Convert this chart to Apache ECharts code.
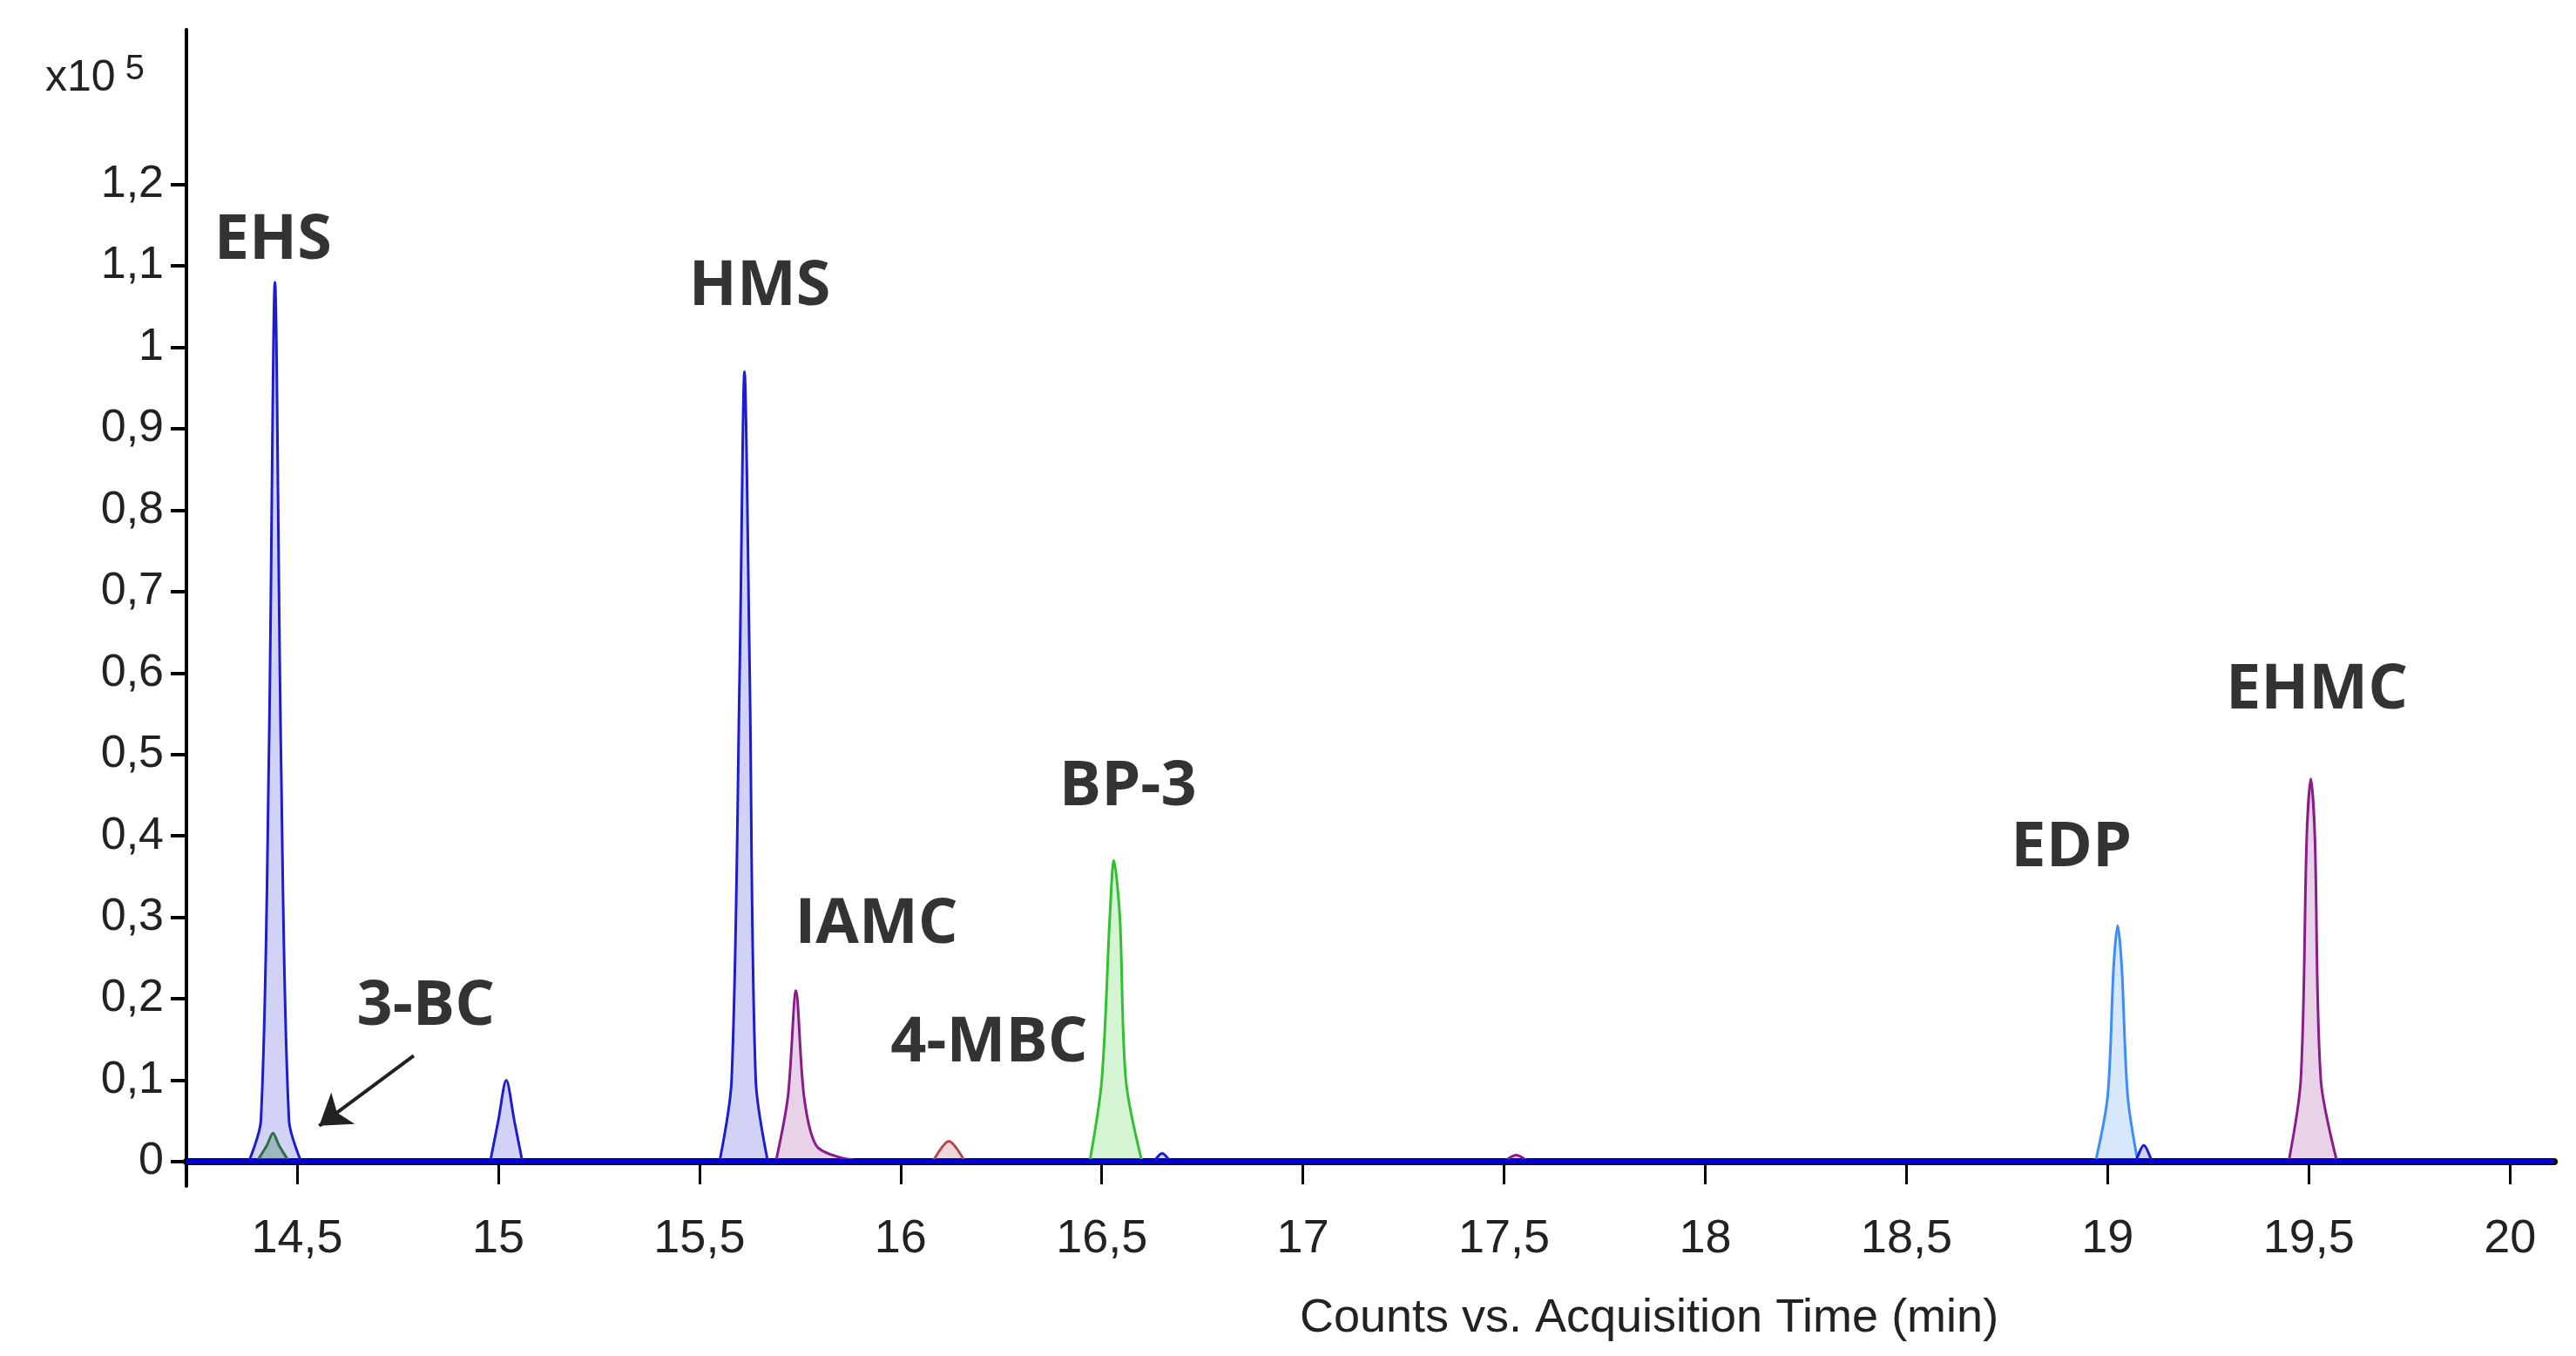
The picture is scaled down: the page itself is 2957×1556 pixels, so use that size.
<!DOCTYPE html>
<html>
<head>
<meta charset="utf-8">
<script src="https://cdn.jsdelivr.net/npm/echarts@6/dist/echarts.min.js"></script>
<style>html,body{margin:0;padding:0;background:#fff}#chart{width:2957px;height:1556px}</style>
</head>
<body>
<div id="chart"></div>
<script>
// tick values
var xTicks = [14.5, 15, 15.5, 16, 16.5, 17, 17.5, 18, 18.5, 19, 19.5, 20];
var yTicks = [0, 0.1, 0.2, 0.3, 0.4, 0.5, 0.6, 0.7, 0.8, 0.9, 1, 1.1, 1.2];

// peaks: [time (min), counts x10^5]
var ehs = [[14.38,0],[14.41,0.05],[14.43,0.5],[14.445,1.08],[14.46,0.5],[14.48,0.05],[14.51,0]];
var bc3 = [[14.40,0],[14.425,0.02],[14.44,0.035],[14.455,0.02],[14.48,0]];
var p1502 = [[14.98,0],[15.0,0.05],[15.02,0.10],[15.04,0.05],[15.06,0]];
var hms = [[15.55,0],[15.58,0.1],[15.60,0.6],[15.612,0.97],[15.625,0.6],[15.64,0.1],[15.67,0]];
var iamc = [[15.69,0],[15.72,0.08],[15.74,0.21],[15.76,0.08],[15.79,0.02],[15.85,0.005],[15.93,0]];
var mbc4 = [[16.08,0],[16.12,0.025],[16.16,0]];
var bp3 = [[16.47,0],[16.50,0.1],[16.52,0.3],[16.53,0.37],[16.545,0.3],[16.56,0.1],[16.6,0]];
var p1665 = [[16.63,0],[16.65,0.01],[16.67,0]];
var p1753 = [[17.50,0],[17.53,0.008],[17.56,0]];
var edp = [[18.97,0],[19.0,0.08],[19.015,0.24],[19.025,0.29],[19.035,0.24],[19.05,0.08],[19.075,0]];
var p1910 = [[19.07,0],[19.09,0.02],[19.11,0]];
var ehmc = [[19.45,0],[19.48,0.1],[19.495,0.4],[19.505,0.47],[19.515,0.4],[19.53,0.1],[19.57,0]];
var baseline = [[14.225,0],[20.11,0]];

// labels: [text, time, counts]
var labels = [
  ['EHS', 14.44, 1.13], ['HMS', 15.65, 1.074], ['3-BC', 14.82, 0.19], ['IAMC', 15.94, 0.29],
  ['4-MBC', 16.22, 0.145], ['BP-3', 16.565, 0.46], ['EDP', 18.91, 0.385], ['EHMC', 19.52, 0.578]
];
var arrow = [[14.79, 0.13], [14.555, 0.044]];

function peak(data, line, fill) {
  return {
    type: 'line', data: data, symbol: 'none', smooth: 0.3, z: 3,
    lineStyle: { color: line, width: 3 },
    areaStyle: { color: fill, origin: 0 }
  };
}
var blue = '#1c1cd0', blueFill = 'rgba(70,70,220,0.35)';
var purple = '#8a1c8a', purpleFill = 'rgba(160,70,160,0.35)';

var fmt = function (v) { return String(Math.round(v * 100) / 100).replace('.', ','); };

var chart = echarts.init(document.getElementById('chart'));
chart.setOption({
  animation: false,
  grid: { left: 214, right: 25, top: 34, bottom: 195 },
  xAxis: {
    type: 'value', min: 14.225, max: 20.11,
    axisLine: { lineStyle: { color: '#000', width: 8 } },
    axisTick: { customValues: xTicks, length: 26, lineStyle: { color: '#000', width: 3 } },
    axisLabel: { customValues: xTicks, formatter: fmt, color: '#222', fontSize: 54, margin: 34, fontFamily: 'Liberation Sans' },
    splitLine: { show: false },
    name: 'Counts vs. Acquisition Time (min)', nameLocation: 'middle', nameGap: 125,
    nameTextStyle: { color: '#222', fontSize: 54, fontFamily: 'Liberation Sans', padding: [0, 0, 0, 640] }
  },
  yAxis: {
    type: 'value', min: -0.03, max: 1.39,
    axisLine: { show: true, lineStyle: { color: '#000', width: 4 } },
    axisTick: { customValues: yTicks, length: 18, lineStyle: { color: '#000', width: 4 } },
    axisLabel: { customValues: yTicks, formatter: fmt, color: '#222', fontSize: 52, margin: 26, fontFamily: 'Liberation Sans' },
    splitLine: { show: false }
  },
  graphic: [{
    type: 'text', left: 52, top: 60,
    style: { text: '{a|x10}{b| 5}', rich: { a: { fontSize: 50, fill: '#222', fontFamily: 'Liberation Sans' }, b: { fontSize: 40, fill: '#222', fontFamily: 'Liberation Sans', verticalAlign: 'top', padding: [0, 0, 20, 0] } } }
  }],
  series: [
    peak(ehs, blue, blueFill),
    peak(bc3, '#2e6e46', 'rgba(60,140,90,0.5)'),
    peak(p1502, blue, blueFill),
    peak(hms, blue, blueFill),
    peak(iamc, purple, purpleFill),
    peak(mbc4, '#b04a4a', 'rgba(190,90,90,0.35)'),
    peak(bp3, '#30c030', 'rgba(80,210,80,0.35)'),
    peak(p1665, blue, blueFill),
    peak(p1753, purple, purpleFill),
    peak(edp, '#3a8ef5', 'rgba(90,160,245,0.35)'),
    peak(p1910, blue, blueFill),
    peak(ehmc, purple, purpleFill),
    {
      type: 'line', data: baseline, symbol: 'none', z: 4,
      lineStyle: { color: '#0000cc', width: 6 },
      markLine: {
        silent: true, symbol: ['none', 'arrow'], symbolSize: 34, label: { show: false },
        lineStyle: { color: '#222', width: 4, type: 'solid' },
        data: [[{ coord: arrow[0] }, { coord: arrow[1] }]]
      }
    },
    {
      type: 'scatter', symbolSize: 0, z: 5,
      data: labels.map(function (l) { return { value: [l[1], l[2]], name: l[0] }; }),
      label: { show: true, position: 'inside', formatter: '{b}', color: '#000', fontSize: 72, fontWeight: 'bold', fontFamily: 'Open Sans' }
    }
  ]
});
</script>
</body>
</html>
